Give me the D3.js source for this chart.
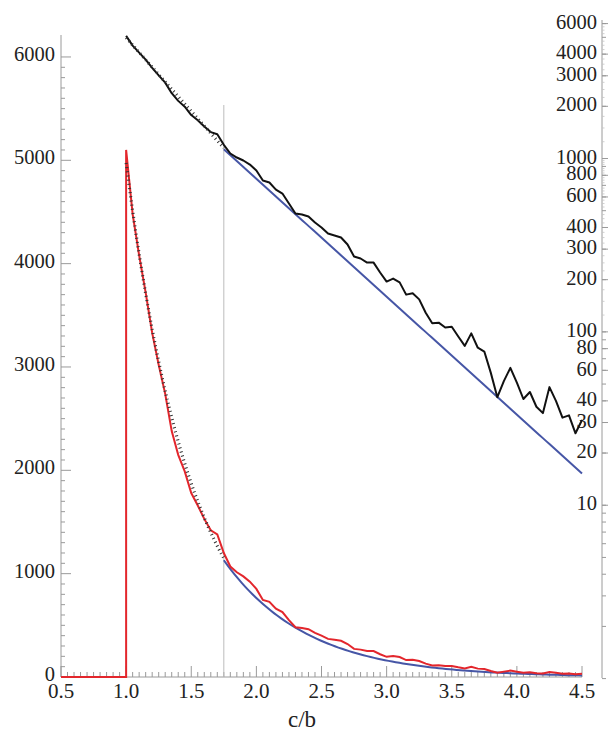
<!DOCTYPE html>
<html>
<head>
<meta charset="utf-8">
<script src="https://cdn.jsdelivr.net/npm/d3@7/dist/d3.min.js"></script>
<style>
  html, body { margin: 0; padding: 0; background: #fff; }
  svg { display: block; }
  text { font-family: "Liberation Serif", "Times New Roman", Times, serif; fill: #222; }
</style>
</head>
<body>
<script>
// Histogram of c/b, bins of width 0.05 starting at c/b = 1.0
const binStart = 1.0;
const binWidth = 0.05;
const counts = [
  5100, 4480, 4080, 3720, 3330, 3020, 2740, 2380, 2150, 1990,
  1780, 1660, 1530, 1420, 1380, 1200, 1069, 1013, 974, 923,
  852, 746, 727, 662, 628, 550, 482, 475, 463, 427,
  400, 369, 360, 350, 319, 272, 265, 251, 251, 220,
  195, 203, 193, 164, 167, 154, 129, 112, 113, 106,
  107, 94, 83, 98, 81, 77, 58, 42, 52, 62,
  51, 41, 45, 37, 34, 48, 40, 32, 33, 26, 31
];
const cb = counts.map((_, i) => +(binStart + i * binWidth).toFixed(2));

// Exponential fits: steep one on [1, 1.75], tail one on [1.75, 4.5]
const fitHead = { x0: 1.0, x1: 1.75, amp: 4974, rate: 1.953 };
const fitTail = { x0: 1.75, x1: 4.5, amp: 1130, rate: 1.566 };
const cutX = 1.75;

// Axis ticks
const xTicks = [0.5, 1.0, 1.5, 2.0, 2.5, 3.0, 3.5, 4.0, 4.5];
const linTicks = [0, 1000, 2000, 3000, 4000, 5000, 6000];
const logTicks = [10, 20, 30, 40, 60, 80, 100, 200, 300, 400, 600, 800, 1000, 2000, 3000, 4000, 6000];

const W = 608, H = 731;
const svg = d3.select("body").append("svg").attr("width", W).attr("height", H);

const x = d3.scaleLinear().domain([0.5, 4.5]).range([61, 582]);
const yLin = d3.scaleLinear().domain([0, 6200]).range([677, 36.3]);
const yLog = d3.scaleLog().domain([1, 6000]).range([678.6, 23.6]);

const axisGray = "#9a9a9a";

// ---- left linear axis ----
const gl = svg.append("g");
gl.append("line").attr("x1", 61).attr("x2", 61).attr("y1", 35).attr("y2", 677)
  .attr("stroke", axisGray).attr("stroke-width", 1);
d3.range(0, 6001, 100).forEach(v => {
  const major = v % 1000 === 0;
  gl.append("line").attr("x1", 61).attr("x2", 61 + (major ? 10 : 4))
    .attr("y1", yLin(v)).attr("y2", yLin(v))
    .attr("stroke", axisGray).attr("stroke-width", 1);
});
gl.selectAll("text.lt").data(linTicks).join("text")
  .attr("x", 55).attr("y", d => yLin(d) - 3).attr("dy", "0.35em")
  .attr("text-anchor", "end").attr("font-size", 20.5)
  .text(d => d);

// ---- bottom axis ----
const gb = svg.append("g");
gb.append("line").attr("x1", 61).attr("x2", 582).attr("y1", 677).attr("y2", 677)
  .attr("stroke", axisGray).attr("stroke-width", 1);
d3.range(0, 81).forEach(i => {
  const v = 0.5 + i * 0.05;
  const major = i % 10 === 0;
  gb.append("line").attr("x1", x(v)).attr("x2", x(v))
    .attr("y1", 677).attr("y2", 677 - (major ? 11 : 5))
    .attr("stroke", axisGray).attr("stroke-width", 1);
});
gb.selectAll("text").data(xTicks).join("text")
  .attr("x", d => x(d)).attr("y", 698)
  .attr("text-anchor", "middle").attr("font-size", 21)
  .text(d => d.toFixed(1));
svg.append("text").attr("x", 302).attr("y", 727)
  .attr("text-anchor", "middle").attr("font-size", 23).text("c/b");

// ---- right log axis ----
const gr = svg.append("g");
gr.append("line").attr("x1", 602).attr("x2", 602).attr("y1", 20).attr("y2", 678)
  .attr("stroke", axisGray).attr("stroke-width", 1);
[1, 10, 100, 1000].forEach(dec => {
  d3.range(1, 10).forEach(k => {
    const v = k * dec;
    if (v > 6000) return;
    gr.append("line").attr("x1", 602).attr("x2", 606)
      .attr("y1", yLog(v)).attr("y2", yLog(v))
      .attr("stroke", axisGray).attr("stroke-width", 1);
  });
});
[100, 1000].forEach(dec => {
  d3.range(1, 10).forEach(k => {
    [0.25, 0.5, 0.75].forEach(f => {
      const v = (k + f) * dec;
      if (v > 6000) return;
      gr.append("line").attr("x1", 602).attr("x2", 604.5)
        .attr("y1", yLog(v)).attr("y2", yLog(v))
        .attr("stroke", "#c4c4c4").attr("stroke-width", 0.8);
    });
  });
});
logTicks.forEach(v => {
  gr.append("line").attr("x1", 602).attr("x2", 608)
    .attr("y1", yLog(v)).attr("y2", yLog(v))
    .attr("stroke", axisGray).attr("stroke-width", 1);
});
gr.selectAll("text").data(logTicks).join("text")
  .attr("x", 597).attr("y", d => yLog(d) - 2).attr("dy", "0.35em")
  .attr("text-anchor", "end").attr("font-size", 20.5)
  .text(d => d);

// ---- cut marker ----
svg.append("line").attr("x1", x(cutX)).attr("x2", x(cutX))
  .attr("y1", 105).attr("y2", 677)
  .attr("stroke", "#bdbdbd").attr("stroke-width", 1);

// ---- curves ----
const pts = cb.map((c, i) => [c, counts[i]]);

const lineLin = d3.line().x(d => x(d[0])).y(d => yLin(d[1]));
const lineLog = d3.line().x(d => x(d[0])).y(d => yLog(d[1]));

function fitPoints(f) {
  return d3.range(0, 101).map(i => {
    const xv = f.x0 + (f.x1 - f.x0) * i / 100;
    return [xv, f.amp * Math.exp(-f.rate * (xv - f.x0))];
  });
}
const headPts = fitPoints(fitHead);
const tailPts = fitPoints(fitTail);

const blue = "#4656a6";
const red = "#e3262c";

// tail fit, both scales
svg.append("path").attr("d", lineLin(tailPts))
  .attr("fill", "none").attr("stroke", blue).attr("stroke-width", 2);
svg.append("path").attr("d", lineLog(tailPts))
  .attr("fill", "none").attr("stroke", blue).attr("stroke-width", 2);

// histogram on the log scale
svg.append("path").attr("d", lineLog(pts))
  .attr("fill", "none").attr("stroke", "#111").attr("stroke-width", 2)
  .attr("stroke-linejoin", "round");

// histogram on the linear scale, with the empty range below c/b = 1
const redPts = [[0.5, 0], [binStart, 0]].concat(pts);
svg.append("path").attr("d", lineLin(redPts))
  .attr("fill", "none").attr("stroke", red).attr("stroke-width", 2)
  .attr("stroke-linejoin", "miter").attr("stroke-miterlimit", 10);

// head fit, hatched dots, both scales
[lineLin, lineLog].forEach(fn => {
  svg.append("path").attr("d", fn(headPts))
    .attr("fill", "none").attr("stroke", "#333").attr("stroke-width", 3.2)
    .attr("stroke-dasharray", "1,3.2");
});
</script>
</body>
</html>
